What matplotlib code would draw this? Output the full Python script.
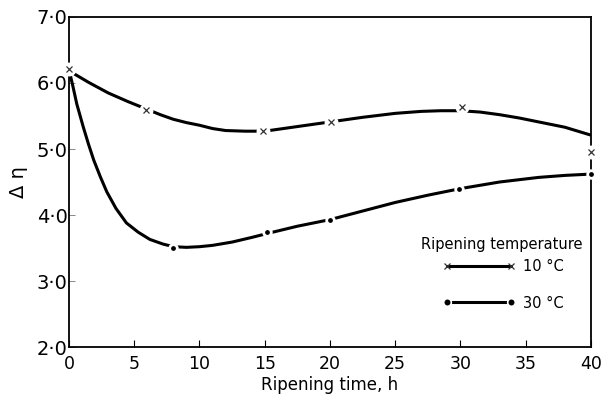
import matplotlib.pyplot as plt
from matplotlib.lines import Line2D

# measured points (markers)
t10 = [0, 5.9, 14.9, 20.1, 30.1, 40]
d10 = [6.21, 5.59, 5.27, 5.41, 5.64, 4.95]
t30 = [8, 15.2, 20, 29.9, 40]
d30 = [3.50, 3.74, 3.92, 4.39, 4.62]

# hand-drawn smooth curves
ct10 = [0.3, 1.5, 3, 4.5, 6, 7, 8, 9, 10, 11, 12, 13.5, 15, 17.5, 20, 22.5, 25, 27, 28.5, 30, 31.5, 33, 34.5, 36, 37, 38, 39, 40]
cd10 = [6.15, 6.01, 5.85, 5.72, 5.60, 5.52, 5.45, 5.40, 5.36, 5.31, 5.28, 5.27, 5.27, 5.34, 5.41, 5.48, 5.54, 5.57, 5.58, 5.58, 5.56, 5.52, 5.47, 5.41, 5.37, 5.33, 5.27, 5.21]
ct30 = [0.1, 0.3, 0.6, 1.1, 1.5, 1.9, 2.4, 2.9, 3.6, 4.4, 5.3, 6.2, 7.2, 8, 9, 10, 11, 12.5, 14, 15.2, 17.5, 20, 22.5, 25, 27.5, 30, 33, 36, 38, 40]
cd30 = [6.12, 5.95, 5.68, 5.33, 5.07, 4.83, 4.58, 4.35, 4.10, 3.88, 3.74, 3.63, 3.56, 3.52, 3.51, 3.52, 3.54, 3.59, 3.66, 3.72, 3.83, 3.93, 4.06, 4.19, 4.30, 4.40, 4.50, 4.57, 4.60, 4.62]

xticks = [0, 5, 10, 15, 20, 25, 30, 35, 40]
yticks = [2, 3, 4, 5, 6, 7]
ylabels = ['2·0', '3·0', '4·0', '5·0', '6·0', '7·0']

fig = plt.figure(figsize=(6.02, 3.98), dpi=100)
ax = fig.add_axes([0.1146, 0.1281, 0.867, 0.8292])

ax.plot(ct10, cd10, color='black', lw=2.2, solid_capstyle='butt', zorder=2)
ax.plot(ct30, cd30, color='black', lw=2.2, solid_capstyle='butt', zorder=2)

# white gaps around markers, like the original
ax.plot(t10, d10, ls='none', marker='o', ms=9, mfc='white', mec='white', zorder=3, clip_on=False)
ax.plot(t10, d10, ls='none', marker='x', ms=5, mew=0.9, color='#333333', zorder=4, clip_on=False)
ax.plot(t30, d30, ls='none', marker='o', ms=5.5, mfc='black', mec='white', mew=2.0, zorder=4, clip_on=False)

ax.set_xlim(0, 40)
ax.set_ylim(2, 7)
ax.set_xticks(xticks)
ax.set_yticks(yticks)
ax.set_yticklabels(ylabels)
ax.tick_params(axis='x', direction='in', length=5, width=0.8, pad=6, labelsize=12.5)
ax.tick_params(axis='y', direction='in', length=4, width=0.7, color='#888888', pad=1, labelsize=14)
for s in ax.spines.values():
    s.set_linewidth(1.3)

ax.set_xlabel('Ripening time, h', fontsize=12, labelpad=2)
ax.set_ylabel('Δ η', fontsize=14, labelpad=6)

# legend: title as its own text so the gap to the rows matches the original
ax.text(0.83, 0.312, 'Ripening temperature', transform=ax.transAxes,
        ha='center', va='center', fontsize=10.5)
h10 = Line2D([], [], color='black', lw=2.2, marker='x', ms=5, mew=0.9, mec='#333333')
h30 = Line2D([], [], color='black', lw=2.2, marker='o', ms=5.5, mec='white', mew=1.2)
ax.legend([h10, h30], ['10 °C', '30 °C'],
          loc='center right', bbox_to_anchor=(0.948, 0.189), frameon=False,
          numpoints=2, handlelength=5.0, handletextpad=0.5, labelspacing=1.5,
          borderpad=0.0, borderaxespad=0.0, fontsize=10.5)

fig.savefig('out.png', dpi=100)
